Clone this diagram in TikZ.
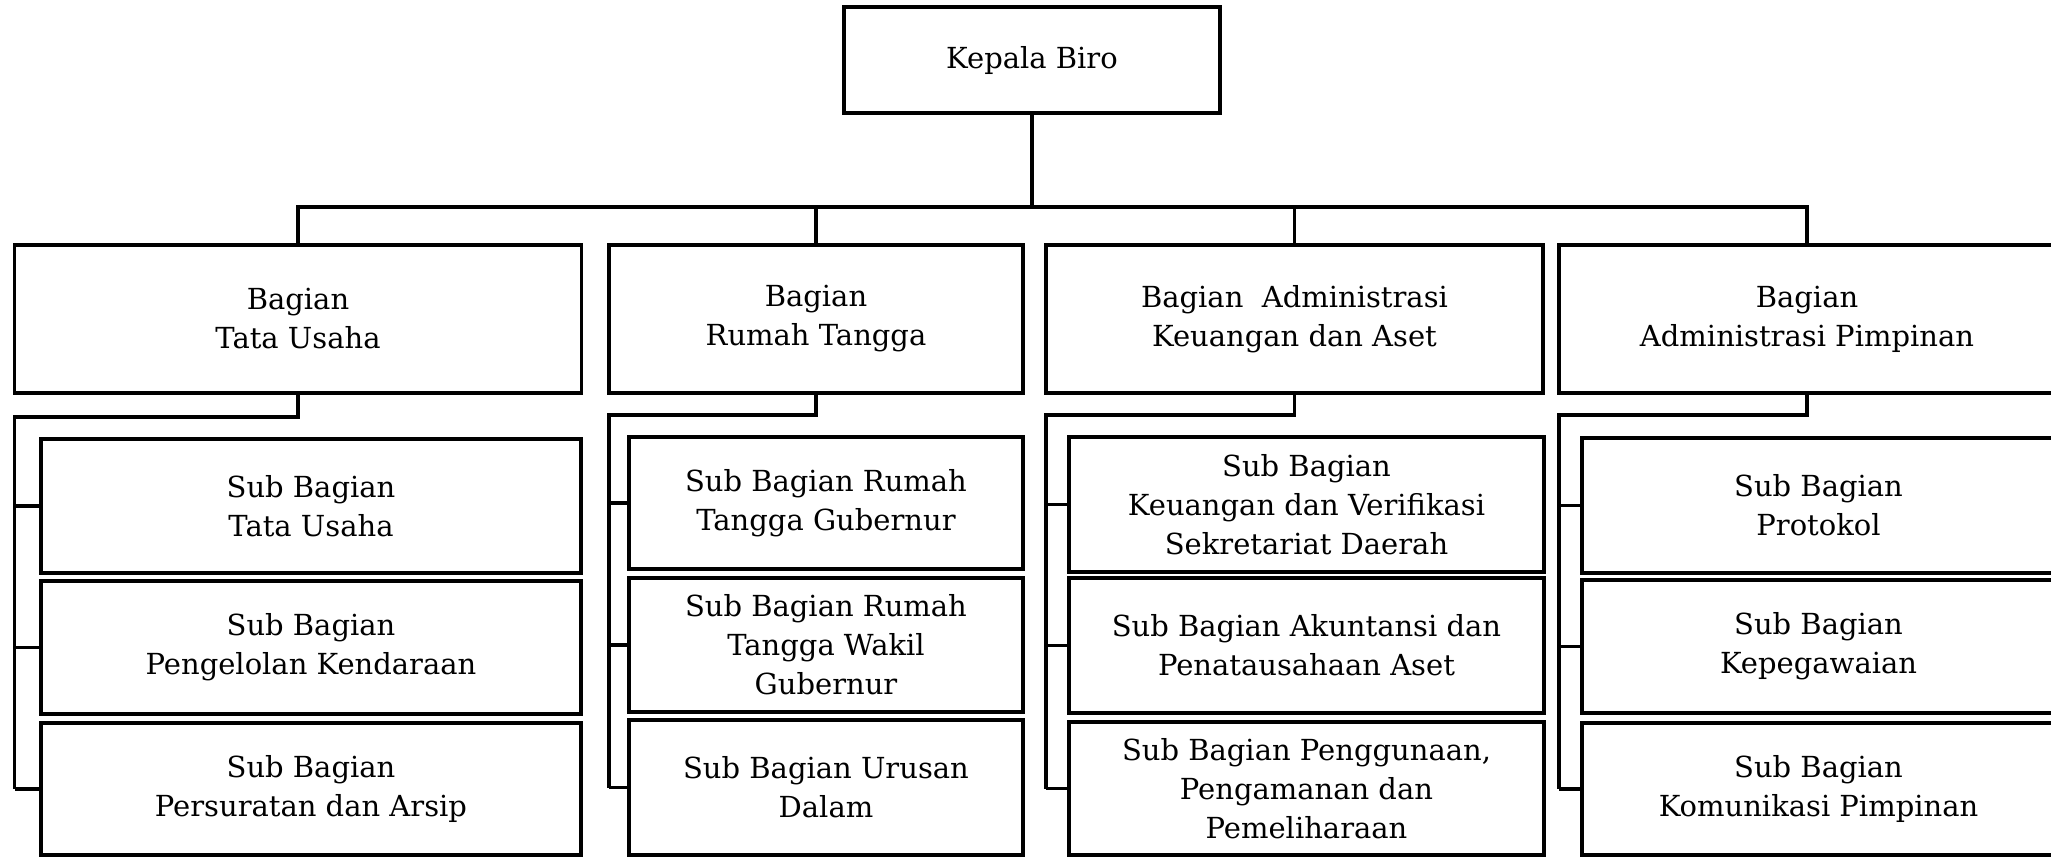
\documentclass[tikz,border=0pt]{standalone}
\usepackage{fontspec}
\setmainfont{DejaVu Serif}
\begin{document}
\begin{tikzpicture}[x=1pt,y=-1pt,
  box/.style={draw, line width=3.6pt, align=center, inner sep=0pt, font=\fontsize{29}{39}\selectfont},
  conn/.style={line width=3.2pt}]
\useasboundingbox (0,0) rectangle (2051,857);
\clip (0,0) rectangle (2051,857);
\fill[white] (0,0) rectangle (2051,857);
% top
\node[box, minimum width=376pt, minimum height=106pt] (kb) at (1032,60) {Kepala Biro};
% bagian row
\node[box, minimum width=567pt, minimum height=148pt] (tu) at (298,319) {Bagian\\Tata Usaha};
\node[box, minimum width=414pt, minimum height=148pt] (rt) at (816,319) {Bagian\\Rumah Tangga};
\node[box, minimum width=497pt, minimum height=148pt] (ku) at (1294.5,319) {Bagian\ \ Administrasi\\Keuangan dan Aset};
\node[box, minimum width=496pt, minimum height=148pt] (pp) at (1807,319) {Bagian\\Administrasi Pimpinan};
% sub boxes: tata usaha
\node[box, minimum width=540pt, minimum height=134pt] (tu1) at (311,506) {Sub Bagian\\Tata Usaha};
\node[box, minimum width=540pt, minimum height=133pt] (tu2) at (311,647.5) {Sub Bagian\\Pengelolan Kendaraan};
\node[box, minimum width=540pt, minimum height=132pt] (tu3) at (311,789) {Sub Bagian\\Persuratan dan Arsip};
% rumah tangga
\node[box, minimum width=394pt, minimum height=132pt] (rt1) at (826,503) {Sub Bagian Rumah\\Tangga Gubernur};
\node[box, minimum width=394pt, minimum height=134pt] (rt2) at (826,645) {Sub Bagian Rumah\\Tangga Wakil\\Gubernur};
\node[box, minimum width=394pt, minimum height=135pt] (rt3) at (826,787.5) {Sub Bagian Urusan\\Dalam};
% keuangan
\node[box, minimum width=475pt, minimum height=135pt] (ku1) at (1306.5,504.5) {Sub Bagian\\Keuangan dan Verifikasi\\Sekretariat Daerah};
\node[box, minimum width=475pt, minimum height=135pt] (ku2) at (1306.5,645.5) {Sub Bagian Akuntansi dan\\Penatausahaan Aset};
\node[box, minimum width=475pt, minimum height=133pt] (ku3) at (1306.5,788.5) {Sub Bagian Penggunaan,\\Pengamanan dan\\Pemeliharaan};
% pimpinan
\node[box, minimum width=473pt, minimum height=135pt] (pp1) at (1818.5,505.5) {Sub Bagian\\Protokol};
\node[box, minimum width=473pt, minimum height=133pt] (pp2) at (1818.5,646.5) {Sub Bagian\\Kepegawaian};
\node[box, minimum width=473pt, minimum height=132pt] (pp3) at (1818.5,789) {Sub Bagian\\Komunikasi Pimpinan};
% bus
\coordinate (bus) at (0,207);
\draw[conn] (kb.south) -- (kb.south |- bus);
\draw[conn] (tu.north) -- (tu.north |- bus) -- (pp.north |- bus) -- (pp.north);
\draw[conn] (rt.north) -- (rt.north |- bus);
\draw[conn] (ku.north) -- (ku.north |- bus);
% column trees
\coordinate (tuL) at (14.5,417);
\coordinate (rtL) at (609,415);
\coordinate (kuL) at (1046,415);
\coordinate (ppL) at (1559,415);
\foreach \c in {tu,rt,ku,pp}{
  \draw[conn] (\c.south) |- (\c L) -- (\c L |- \c3.west);
  \foreach \i in {1,2,3}{
    \draw[conn] (\c L |- \c\i.west) -- (\c\i.west);
  }
}
\end{tikzpicture}
\end{document}
